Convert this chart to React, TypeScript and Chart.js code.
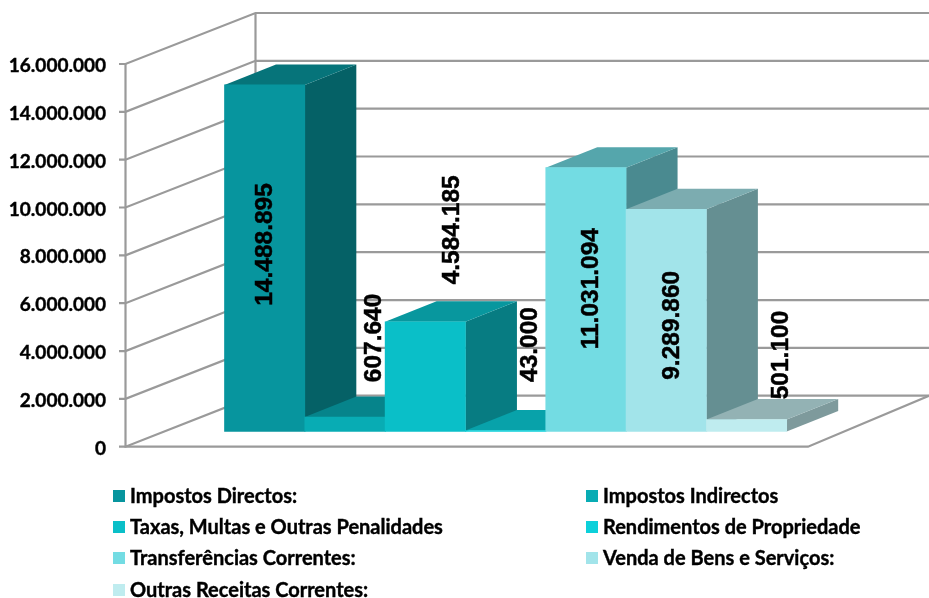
import React, { useEffect, useRef } from "react";
import { Chart, registerables } from "chart.js";

Chart.register(...registerables);

const categories = [
  "Impostos Directos:",
  "Impostos Indirectos",
  "Taxas, Multas e Outras Penalidades",
  "Rendimentos de Propriedade",
  "Transferências Correntes:",
  "Venda de Bens e Serviços:",
  "Outras Receitas Correntes:",
];
const values = [14488895, 607640, 4584185, 43000, 11031094, 9289860, 501100];
const frontColors = ["#07959E", "#08ACB4", "#0ABFC8", "#0CD0DA", "#73DCE3", "#A2E4EA", "#BFECEF"];
const topColors = ["#06747A", "#06848B", "#08979E", "#08A2AA", "#55A6AC", "#7CACB0", "#93B2B4"];
const sideColors = ["#056166", "#06707A", "#077C82", "#088890", "#4A8A90", "#658F92", "#7E9A9C"];
const labelDx = [0, 28, 26, 23.5, 4, 5, 33.5];
const labelDy = [159.5, -79, -92, -86, 121, 116, -64.5];

const FONT_AXIS = "Lato, 'Liberation Sans', sans-serif";
const FONT_DATA = "'Liberation Sans', Arial, sans-serif";
const GRID = "#9A9A9A";
const WALL_DX = 130;
const WALL_DY = -51;
const BAR_SHIFT_X = 36.5;
const BAR_SHIFT_Y = -15.2;
const BAR_DX = 51.5;
const BAR_DY = -20.5;
const fmt = (v: number) => String(v).replace(/\B(?=(\d{3})+(?!\d))/g, ".");

const wallPlugin = {
  id: "wall",
  beforeDatasetsDraw(chart: any) {
    const { ctx, scales } = chart;
    const y = scales.y;
    const x0 = 125.5;
    ctx.save();
    ctx.strokeStyle = GRID;
    ctx.lineWidth = 2.2;
    y.ticks.forEach((t: any) => {
      const py = y.getPixelForValue(t.value);
      ctx.beginPath();
      ctx.moveTo(119, py);
      ctx.lineTo(x0, py);
      ctx.lineTo(x0 + WALL_DX, py + WALL_DY);
      ctx.lineTo(929, py + WALL_DY);
      ctx.stroke();
    });
    const top = y.getPixelForValue(16000000);
    const bot = y.getPixelForValue(0);
    ctx.beginPath();
    ctx.moveTo(x0, top);
    ctx.lineTo(x0, bot);
    ctx.lineTo(808, bot);
    ctx.lineTo(929, bot + WALL_DY);
    ctx.stroke();
    ctx.beginPath();
    ctx.moveTo(x0 + WALL_DX, top + WALL_DY);
    ctx.lineTo(x0 + WALL_DX, bot + WALL_DY);
    ctx.stroke();
    // value-axis labels
    ctx.fillStyle = "#000";
    ctx.strokeStyle = "#000";
    ctx.lineWidth = 0.4;
    ctx.textAlign = "right";
    ctx.textBaseline = "middle";
    ctx.font = `bold 19px ${FONT_AXIS}`;
    y.ticks.forEach((t: any) => {
      const py = y.getPixelForValue(t.value) + 2;
      ctx.fillText(fmt(t.value), 106, py);
      ctx.strokeText(fmt(t.value), 106, py);
    });
    ctx.restore();
  },
  beforeDatasetDraw(chart: any, args: any) {
    const { ctx } = chart;
    ctx.save();
    ctx.translate(BAR_SHIFT_X, BAR_SHIFT_Y);
    args.meta.data.forEach((el: any, i: number) => {
      const { x, y, width, base } = el.getProps(["x", "y", "width", "base"], true);
      const l = x - width / 2;
      const r = x + width / 2;
      ctx.fillStyle = sideColors[i];
      ctx.beginPath();
      ctx.moveTo(r, y);
      ctx.lineTo(r + BAR_DX, y + BAR_DY);
      ctx.lineTo(r + BAR_DX, base + BAR_DY);
      ctx.lineTo(r, base);
      ctx.closePath();
      ctx.fill();
      ctx.fillStyle = topColors[i];
      ctx.beginPath();
      ctx.moveTo(l, y);
      ctx.lineTo(l + BAR_DX, y + BAR_DY);
      ctx.lineTo(r + BAR_DX, y + BAR_DY);
      ctx.lineTo(r, y);
      ctx.closePath();
      ctx.fill();
      el.draw(ctx);
    });
    ctx.restore();
    return false;
  },
  afterDatasetsDraw(chart: any) {
    const { ctx } = chart;
    const meta = chart.getDatasetMeta(0);
    ctx.save();
    ctx.fillStyle = "#000";
    ctx.strokeStyle = "#000";
    ctx.lineWidth = 0.5;
    ctx.textAlign = "center";
    ctx.textBaseline = "middle";
    ctx.font = `bold 24.5px ${FONT_DATA}`;
    meta.data.forEach((el: any, i: number) => {
      ctx.save();
      ctx.translate(el.x + BAR_SHIFT_X + labelDx[i], el.y + BAR_SHIFT_Y + labelDy[i]);
      ctx.rotate(-Math.PI / 2);
      ctx.fillText(fmt(values[i]), 0, 1);
      ctx.strokeText(fmt(values[i]), 0, 1);
      ctx.restore();
    });
    // legend
    ctx.textAlign = "left";
    ctx.lineWidth = 0.4;
    ctx.font = `bold 20px ${FONT_AXIS}`;
    const colX = [113, 586];
    const rowY = [496, 527, 558, 590];
    categories.forEach((name, i) => {
      const cx = colX[i % 2];
      const cy = rowY[Math.floor(i / 2)];
      ctx.fillStyle = frontColors[i];
      ctx.fillRect(cx, cy - 6, 12, 12);
      ctx.fillStyle = "#000";
      ctx.fillText(name, cx + 17, cy + 1);
      ctx.strokeText(name, cx + 17, cy + 1);
    });
    ctx.restore();
  },
};

export default function App() {
  const ref = useRef<HTMLCanvasElement>(null);
  useEffect(() => {
    const chart = new Chart(ref.current as HTMLCanvasElement, {
      type: "bar",
      data: {
        labels: categories,
        datasets: [
          {
            data: values,
            backgroundColor: frontColors,
            borderWidth: 0,
            barPercentage: 1,
            categoryPercentage: 1,
          },
        ],
      },
      options: {
        responsive: false,
        animation: false,
        layout: { padding: { left: 0, right: 178.8, top: 64, bottom: 151.3 } },
        plugins: { legend: { display: false }, tooltip: { enabled: false } },
        scales: {
          x: { display: false },
          y: {
            min: 0,
            max: 16000000,
            afterFit: (s: any) => {
              s.width = 188;
              s.paddingTop = 0;
              s.paddingBottom = 0;
            },
            grid: { display: false, drawTicks: false },
            border: { display: false },
            ticks: { stepSize: 2000000, display: false },
          },
        },
      },
      plugins: [wallPlugin],
    } as any);
    return () => chart.destroy();
  }, []);
  return (
    <canvas
      ref={ref}
      width={929}
      height={598}
      style={{ position: "absolute", left: 0, top: 0, display: "block" }}
    />
  );
}
